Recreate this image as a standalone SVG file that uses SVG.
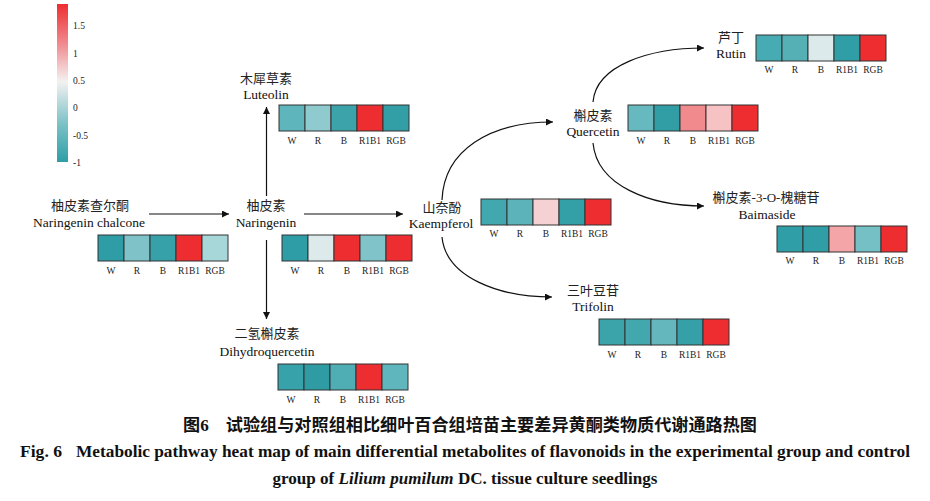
<svg xmlns="http://www.w3.org/2000/svg" width="930" height="501" viewBox="0 0 930 501">
<defs>
<linearGradient id="cbar" x1="0" y1="0" x2="0" y2="1">
<stop offset="0" stop-color="#EE2E31"/>
<stop offset="0.25" stop-color="#F08A8D"/>
<stop offset="0.49" stop-color="#F4F1F1"/>
<stop offset="0.75" stop-color="#7EC3C7"/>
<stop offset="1" stop-color="#2E9EA6"/>
</linearGradient>
<marker id="ah" viewBox="0 0 10 10" refX="10" refY="5" markerWidth="7" markerHeight="7" markerUnits="userSpaceOnUse" orient="auto">
<path d="M0,0 L10,5 L0,10 z" fill="#111"/>
</marker>
</defs>
<style>
.cell{stroke:#333;stroke-width:1}
.hl{font-family:"Liberation Serif","Times New Roman",serif;font-size:9.5px;fill:#222;text-anchor:middle}
.cb{font-family:"Liberation Serif","Times New Roman",serif;font-size:9.5px;fill:#222}
.zh{font-family:"Liberation Serif","Noto Sans CJK SC",serif;font-size:13px;fill:#222;text-anchor:middle}
.en{font-family:"Liberation Serif","Times New Roman",serif;font-size:13.5px;fill:#111;text-anchor:middle}
.cap{font-family:"Liberation Serif","Noto Sans CJK SC",serif;font-weight:bold;fill:#111;text-anchor:middle}
.capl{font-family:"Liberation Serif","Times New Roman",serif;font-weight:bold;fill:#111;text-anchor:start}
.conn{fill:none;stroke:#111;stroke-width:1.2}
</style>
<rect width="930" height="501" fill="#fff"/>

<g id="colorbar">
<rect x="57" y="4" width="11" height="158" fill="url(#cbar)"/>
<text class="cb" x="73" y="29">1.5</text>
<text class="cb" x="73" y="57">1</text>
<text class="cb" x="73" y="84">0.5</text>
<text class="cb" x="73" y="111">0</text>
<text class="cb" x="73" y="139">-0.5</text>
<text class="cb" x="73" y="166">-1</text>
</g>

<g id="connectors">
<line class="conn" x1="149" y1="214" x2="229" y2="214" marker-end="url(#ah)"/>
<line class="conn" x1="304" y1="214" x2="403" y2="214" marker-end="url(#ah)"/>
<line class="conn" x1="266.5" y1="196" x2="266.5" y2="107" marker-end="url(#ah)"/>
<line class="conn" x1="266.5" y1="240" x2="266.5" y2="319" marker-end="url(#ah)"/>
<path class="conn" d="M442,200 C444,150 490,122 553,122" marker-end="url(#ah)"/>
<path class="conn" d="M442,237 C446,278 500,297 552,297" marker-end="url(#ah)"/>
<path class="conn" d="M593,102 C596,65 650,48 704,48" marker-end="url(#ah)"/>
<path class="conn" d="M593,143 C597,186 650,206 704,206" marker-end="url(#ah)"/>
</g>

<g id="naringenin-chalcone">
<text class="zh" x="90" y="210">柚皮素查尔酮</text>
<text class="en" x="89" y="227">Naringenin chalcone</text>
<g transform="translate(98,235)">
<rect class="cell" x="0" y="0" width="26" height="26" fill="#2F9DA5"/>
<rect class="cell" x="26" y="0" width="26" height="26" fill="#7FC3C8"/>
<rect class="cell" x="52" y="0" width="26" height="26" fill="#37A1A9"/>
<rect class="cell" x="78" y="0" width="26" height="26" fill="#EE2D30"/>
<rect class="cell" x="104" y="0" width="26" height="26" fill="#A8D7DA"/>
<text class="hl" x="13" y="39">W</text><text class="hl" x="39" y="39">R</text><text class="hl" x="65" y="39">B</text><text class="hl" x="91" y="39">R1B1</text><text class="hl" x="117" y="39">RGB</text>
</g>
</g>

<g id="naringenin">
<text class="zh" x="266" y="210">柚皮素</text>
<text class="en" x="266" y="227">Naringenin</text>
<g transform="translate(282,235)">
<rect class="cell" x="0" y="0" width="26" height="26" fill="#2F9DA5"/>
<rect class="cell" x="26" y="0" width="26" height="26" fill="#DCEAEB"/>
<rect class="cell" x="52" y="0" width="26" height="26" fill="#EE2D30"/>
<rect class="cell" x="78" y="0" width="26" height="26" fill="#80C3C8"/>
<rect class="cell" x="104" y="0" width="26" height="26" fill="#EE2D30"/>
<text class="hl" x="13" y="39">W</text><text class="hl" x="39" y="39">R</text><text class="hl" x="65" y="39">B</text><text class="hl" x="91" y="39">R1B1</text><text class="hl" x="117" y="39">RGB</text>
</g>
</g>

<g id="luteolin">
<text class="zh" x="266" y="83">木犀草素</text>
<text class="en" x="266" y="99">Luteolin</text>
<g transform="translate(279,105)">
<rect class="cell" x="0" y="0" width="26" height="26" fill="#5EB5BB"/>
<rect class="cell" x="26" y="0" width="26" height="26" fill="#8FCACE"/>
<rect class="cell" x="52" y="0" width="26" height="26" fill="#3CA3AA"/>
<rect class="cell" x="78" y="0" width="26" height="26" fill="#EE2D30"/>
<rect class="cell" x="104" y="0" width="26" height="26" fill="#329EA6"/>
<text class="hl" x="13" y="39">W</text><text class="hl" x="39" y="39">R</text><text class="hl" x="65" y="39">B</text><text class="hl" x="91" y="39">R1B1</text><text class="hl" x="117" y="39">RGB</text>
</g>
</g>

<g id="dihydroquercetin">
<text class="zh" x="267" y="338">二氢槲皮素</text>
<text class="en" x="267" y="356">Dihydroquercetin</text>
<g transform="translate(278,364)">
<rect class="cell" x="0" y="0" width="26" height="26" fill="#37A2AA"/>
<rect class="cell" x="26" y="0" width="26" height="26" fill="#2F9BA3"/>
<rect class="cell" x="52" y="0" width="26" height="26" fill="#4EAEB4"/>
<rect class="cell" x="78" y="0" width="26" height="26" fill="#EE2D30"/>
<rect class="cell" x="104" y="0" width="26" height="26" fill="#5FB6BC"/>
<text class="hl" x="13" y="39">W</text><text class="hl" x="39" y="39">R</text><text class="hl" x="65" y="39">B</text><text class="hl" x="91" y="39">R1B1</text><text class="hl" x="117" y="39">RGB</text>
</g>
</g>

<g id="kaempferol">
<text class="zh" x="442" y="212">山奈酚</text>
<text class="en" x="441" y="228">Kaempferol</text>
<g transform="translate(481,199)">
<rect class="cell" x="0" y="0" width="26" height="26" fill="#41A8AF"/>
<rect class="cell" x="26" y="0" width="26" height="26" fill="#5CB3B9"/>
<rect class="cell" x="52" y="0" width="26" height="26" fill="#F5D1D3"/>
<rect class="cell" x="78" y="0" width="26" height="26" fill="#33A0A8"/>
<rect class="cell" x="104" y="0" width="26" height="26" fill="#EE2D30"/>
<text class="hl" x="13" y="38">W</text><text class="hl" x="39" y="38">R</text><text class="hl" x="65" y="38">B</text><text class="hl" x="91" y="38">R1B1</text><text class="hl" x="117" y="38">RGB</text>
</g>
</g>

<g id="quercetin">
<text class="zh" x="593" y="120">槲皮素</text>
<text class="en" x="593" y="136">Quercetin</text>
<g transform="translate(628,105)">
<rect class="cell" x="0" y="0" width="26" height="26" fill="#66B9BF"/>
<rect class="cell" x="26" y="0" width="26" height="26" fill="#319EA6"/>
<rect class="cell" x="52" y="0" width="26" height="26" fill="#F08A8C"/>
<rect class="cell" x="78" y="0" width="26" height="26" fill="#F6C2C4"/>
<rect class="cell" x="104" y="0" width="26" height="26" fill="#EE2D30"/>
<text class="hl" x="13" y="39">W</text><text class="hl" x="39" y="39">R</text><text class="hl" x="65" y="39">B</text><text class="hl" x="91" y="39">R1B1</text><text class="hl" x="117" y="39">RGB</text>
</g>
</g>

<g id="rutin">
<text class="zh" x="731" y="42">芦丁</text>
<text class="en" x="731" y="58">Rutin</text>
<g transform="translate(756,35)">
<rect class="cell" x="0" y="0" width="26" height="26" fill="#46ABB2"/>
<rect class="cell" x="26" y="0" width="26" height="26" fill="#55B0B6"/>
<rect class="cell" x="52" y="0" width="26" height="26" fill="#DCEAEB"/>
<rect class="cell" x="78" y="0" width="26" height="26" fill="#2F9EA6"/>
<rect class="cell" x="104" y="0" width="26" height="26" fill="#EE2D30"/>
<text class="hl" x="13" y="38">W</text><text class="hl" x="39" y="38">R</text><text class="hl" x="65" y="38">B</text><text class="hl" x="91" y="38">R1B1</text><text class="hl" x="117" y="38">RGB</text>
</g>
</g>

<g id="baimaside">
<text class="zh" x="766" y="202">槲皮素-3-O-槐糖苷</text>
<text class="en" x="767" y="219">Baimaside</text>
<g transform="translate(777,226)">
<rect class="cell" x="0" y="0" width="26" height="26" fill="#2F9EA6"/>
<rect class="cell" x="26" y="0" width="26" height="26" fill="#2F9EA6"/>
<rect class="cell" x="52" y="0" width="26" height="26" fill="#F3A5A7"/>
<rect class="cell" x="78" y="0" width="26" height="26" fill="#75C0C5"/>
<rect class="cell" x="104" y="0" width="26" height="26" fill="#EE2D30"/>
<text class="hl" x="13" y="38">W</text><text class="hl" x="39" y="38">R</text><text class="hl" x="65" y="38">B</text><text class="hl" x="91" y="38">R1B1</text><text class="hl" x="117" y="38">RGB</text>
</g>
</g>

<g id="trifolin">
<text class="zh" x="593" y="295">三叶豆苷</text>
<text class="en" x="593" y="311">Trifolin</text>
<g transform="translate(599,319)">
<rect class="cell" x="0" y="0" width="26" height="26" fill="#3BA4AB"/>
<rect class="cell" x="26" y="0" width="26" height="26" fill="#43A8AE"/>
<rect class="cell" x="52" y="0" width="26" height="26" fill="#63B7BD"/>
<rect class="cell" x="78" y="0" width="26" height="26" fill="#35A0A8"/>
<rect class="cell" x="104" y="0" width="26" height="26" fill="#EE2D30"/>
<text class="hl" x="13" y="39">W</text><text class="hl" x="39" y="39">R</text><text class="hl" x="65" y="39">B</text><text class="hl" x="91" y="39">R1B1</text><text class="hl" x="117" y="39">RGB</text>
</g>
</g>

<g id="caption">
<text class="cap" x="470" y="431" font-size="16.5" textLength="574" lengthAdjust="spacingAndGlyphs">图6　试验组与对照组相比细叶百合组培苗主要差异黄酮类物质代谢通路热图</text>
<text class="capl" x="20" y="457" font-size="16.5" textLength="42" lengthAdjust="spacingAndGlyphs">Fig. 6</text>
<text class="capl" x="76" y="457" font-size="16.5" textLength="834" lengthAdjust="spacingAndGlyphs">Metabolic pathway heat map of main differential metabolites of flavonoids in the experimental group and control</text>
<text class="cap" x="465" y="484" font-size="16.5" textLength="385" lengthAdjust="spacingAndGlyphs">group of <tspan font-style="italic">Lilium pumilum</tspan> DC. tissue culture seedlings</text>
</g>
</svg>
